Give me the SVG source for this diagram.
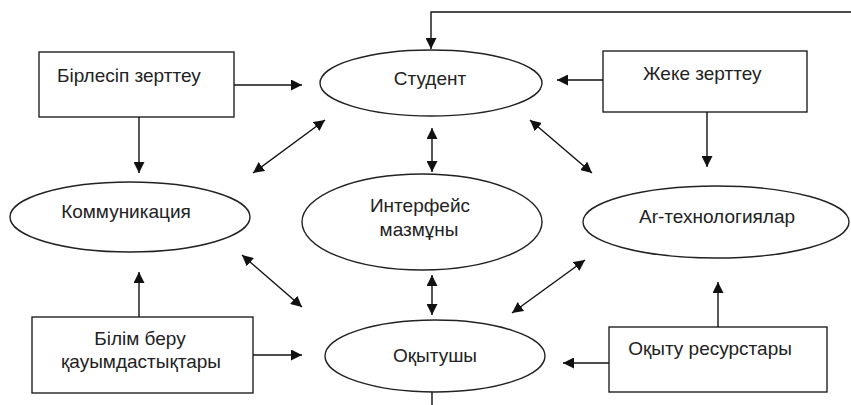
<svg xmlns="http://www.w3.org/2000/svg" width="851" height="405" viewBox="0 0 851 405">
<defs>
<marker id="ah" viewBox="0 0 10 10" refX="10" refY="5" markerWidth="11" markerHeight="11" markerUnits="userSpaceOnUse" orient="auto-start-reverse">
<path d="M0,0 L10,5 L0,10 z" fill="#111"/>
</marker>
<style>
.n{fill:#fff;stroke:#222;stroke-width:1.4}
.t{font-family:"Liberation Sans",Arial,sans-serif;font-size:19px;fill:#222}
.c{text-anchor:middle}
.e line,.e path{stroke:#111;stroke-width:1.4;fill:none}
</style>
</defs>
<rect width="851" height="405" fill="#fff"/>
<g id="student"><ellipse class="n" cx="431" cy="83" rx="111" ry="33"/><text class="t c" x="430" y="85">Студент</text></g>
<g id="birlesip"><rect class="n" x="39" y="52" width="195" height="65"/><text class="t" x="57" y="82">Бірлесіп зерттеу</text></g>
<g id="zheke"><rect class="n" x="603" y="51" width="204" height="61"/><text class="t" x="643" y="80">Жеке зерттеу</text></g>
<g id="kommunikatsiya"><ellipse class="n" cx="130" cy="217" rx="120" ry="35"/><text class="t c" x="126" y="218">Коммуникация</text></g>
<g id="interfeis"><ellipse class="n" cx="422" cy="222" rx="120" ry="48"/><text class="t c" x="420" y="212">Интерфейс</text><text class="t c" x="419" y="236">мазмұны</text></g>
<g id="ar"><ellipse class="n" cx="716" cy="222" rx="133" ry="36"/><text class="t c" x="717" y="223">Ar-технологиялар</text></g>
<g id="bilim"><rect class="n" x="32" y="317" width="221" height="76"/><text class="t c" x="140" y="345">Білім беру</text><text class="t c" x="141" y="368">қауымдастықтары</text></g>
<g id="okytushy"><ellipse class="n" cx="435" cy="356" rx="110" ry="36"/><text class="t c" x="435" y="362">Оқытушы</text></g>
<g id="resurs"><rect class="n" x="609" y="327" width="218" height="65"/><text class="t c" x="710" y="355">Оқыту ресурстары</text></g>
<g class="e" id="connectors">
<path d="M851,12 H431 V49" marker-end="url(#ah)"/>
<line x1="234" y1="85" x2="302" y2="85" marker-end="url(#ah)"/>
<line x1="139" y1="117" x2="139" y2="173" marker-end="url(#ah)"/>
<line x1="325" y1="120" x2="253" y2="173" marker-start="url(#ah)" marker-end="url(#ah)"/>
<line x1="603" y1="80" x2="557" y2="80" marker-end="url(#ah)"/>
<line x1="707" y1="112" x2="707" y2="167" marker-end="url(#ah)"/>
<line x1="530" y1="120" x2="592" y2="173" marker-start="url(#ah)" marker-end="url(#ah)"/>
<line x1="432" y1="128" x2="432" y2="172" marker-start="url(#ah)" marker-end="url(#ah)"/>
<line x1="242" y1="255" x2="302" y2="307" marker-start="url(#ah)" marker-end="url(#ah)"/>
<line x1="139" y1="317" x2="139" y2="272" marker-end="url(#ah)"/>
<line x1="253" y1="355" x2="302" y2="355" marker-end="url(#ah)"/>
<line x1="432" y1="275" x2="432" y2="315" marker-start="url(#ah)" marker-end="url(#ah)"/>
<line x1="512" y1="313" x2="585" y2="260" marker-start="url(#ah)" marker-end="url(#ah)"/>
<line x1="718" y1="327" x2="718" y2="282" marker-end="url(#ah)"/>
<line x1="609" y1="363" x2="563" y2="363" marker-end="url(#ah)"/>
<line x1="432" y1="392" x2="432" y2="405"/>
</g>
</svg>
